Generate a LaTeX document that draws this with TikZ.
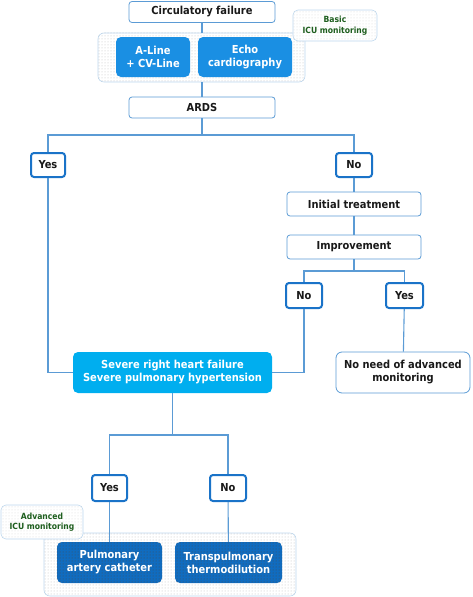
\documentclass[tikz,border=0pt]{standalone}
\usepackage{fontspec}
\setmainfont{DejaVu Sans Condensed}
\usetikzlibrary{patterns}
\definecolor{lineblue}{HTML}{5B9BD5}
\definecolor{darkedge}{HTML}{1A73C8}
\definecolor{midblue}{HTML}{1A8FE3}
\definecolor{cyanfill}{HTML}{00AEEF}
\definecolor{deepblue}{HTML}{106CC0}
\definecolor{greentxt}{HTML}{1E5E1E}
\tikzset{
  txt/.style={font=\fontsize{11}{13}\selectfont\bfseries},
  conn/.style={draw=lineblue, line width=1.1pt},
  wbox/.style={draw=lineblue, fill=white, rounded corners=3pt, line width=0.8pt, txt, text=black!90, align=center, inner sep=0pt},
  ynbox/.style={draw=darkedge, fill=white, rounded corners=3pt, line width=2pt, txt, text=black!90, inner sep=0pt},
  bbox/.style={fill=midblue, rounded corners=5pt, txt, text=white, align=center, inner sep=0pt},
  grpbox/.style={draw=lineblue!40, fill=white, rounded corners=6pt, line width=0.6pt, inner sep=0pt},
  grpdots/.style={pattern=dots, pattern color=black!25, rounded corners=6pt},
  tagbox/.style={draw=lineblue!40, fill=white, rounded corners=5pt, line width=0.6pt, inner sep=0pt},
  tagtxt/.style={font=\fontsize{8.5}{10.5}\selectfont\bfseries, text=greentxt, align=center},
}
\begin{document}
\begin{tikzpicture}[x=1pt,y=-1pt]
\useasboundingbox (0,0) rectangle (473,597);
% groups
\node[grpbox, minimum width=207pt, minimum height=49pt] (g1) at (201.5,57.5) {};
\path[grpdots] (g1.north west) rectangle (g1.south east);
\node[grpbox, minimum width=252pt, minimum height=63pt] (g2) at (170,564.5) {};
\path[grpdots] (g2.north west) rectangle (g2.south east);
% nodes
\node[wbox, minimum width=146pt, minimum height=21pt] (cf) at (202,12) {Circulatory failure};
\node[tagbox, minimum width=84pt, minimum height=31pt] (basic) at (335,25.5) {};
\path[grpdots, pattern color=black!15, rounded corners=5pt] (basic.north west) rectangle (basic.south east);
\node[tagtxt] at (basic) {Basic\\ICU monitoring};
\node[bbox, minimum width=74pt, minimum height=40pt] (aline) at (153,57) {A-Line\\+ CV-Line};
\node[bbox, minimum width=94pt, minimum height=40pt] (echo) at (245,57) {Echo\\cardiography};
\node[wbox, minimum width=146pt, minimum height=21pt] (ards) at (202,107.5) {ARDS};
\coordinate (split1) at (202,135);
\node[ynbox, minimum width=34pt, minimum height=24pt] (yes1) at (48,165) {Yes};
\node[ynbox, minimum width=36pt, minimum height=24pt] (no1) at (354,165) {No};
\node[wbox, minimum width=134pt, minimum height=24pt] (init) at (354,204) {Initial treatment};
\node[wbox, minimum width=134pt, minimum height=24pt] (impr) at (354,247) {Improvement};
\coordinate (split2) at (354,271);
\node[ynbox, minimum width=36pt, minimum height=25pt] (no2) at (304,295.5) {No};
\node[ynbox, minimum width=37pt, minimum height=25pt] (yes2) at (404.5,295.5) {Yes};
\node[wbox, minimum width=134pt, minimum height=41pt, rounded corners=6pt] (noneed) at (403,372.5) {No need of advanced\\monitoring};
\node[bbox, fill=cyanfill, minimum width=199pt, minimum height=41pt] (sev) at (172.5,372.5) {Severe right heart failure\\Severe pulmonary hypertension};
\coordinate (split3) at (172.5,435);
\node[ynbox, minimum width=35pt, minimum height=26pt] (yes3) at (109.5,488) {Yes};
\node[ynbox, minimum width=36pt, minimum height=26pt] (no3) at (228,488) {No};
\node[tagbox, minimum width=82pt, minimum height=34pt] (adv) at (42,522) {};
\path[grpdots, pattern color=black!15, rounded corners=5pt] (adv.north west) rectangle (adv.south east);
\node[tagtxt] at (adv) {Advanced\\ICU monitoring};
\node[bbox, fill=deepblue, minimum width=105pt, minimum height=41pt] (pac) at (109.5,562.5) {};
\path[pattern=dots, pattern color=black!70, rounded corners=5pt] (pac.north west) rectangle (pac.south east);
\node[txt, text=white, align=center] at (pac) {Pulmonary\\artery catheter};
\node[bbox, fill=deepblue, minimum width=107pt, minimum height=41pt] (tpt) at (228.5,562.5) {};
\path[pattern=dots, pattern color=black!70, rounded corners=5pt] (tpt.north west) rectangle (tpt.south east);
\node[txt, text=white, align=center] at (tpt) {Transpulmonary\\thermodilution};
% connectors
\draw[conn] (cf) -- (g1.north -| cf);
\draw[conn] (g1.south -| ards) -- (ards);
\draw[conn] (ards) -- (split1);
\draw[conn] (yes1) |- (split1) -| (no1);
\draw[conn] (no1) -- (init);
\draw[conn] (init) -- (impr);
\draw[conn] (impr) -- (split2);
\draw[conn] (no2) |- (split2) -| (yes2);
\draw[conn] (yes2) -- (noneed);
\draw[conn] (yes1) |- (sev);
\draw[conn] (no2) |- (sev);
\draw[conn] (sev) -- (split3);
\draw[conn] (yes3) |- (split3) -| (no3);
\draw[conn] (yes3) -- (pac);
\draw[conn] (no3) -- (tpt);
\end{tikzpicture}
\end{document}
